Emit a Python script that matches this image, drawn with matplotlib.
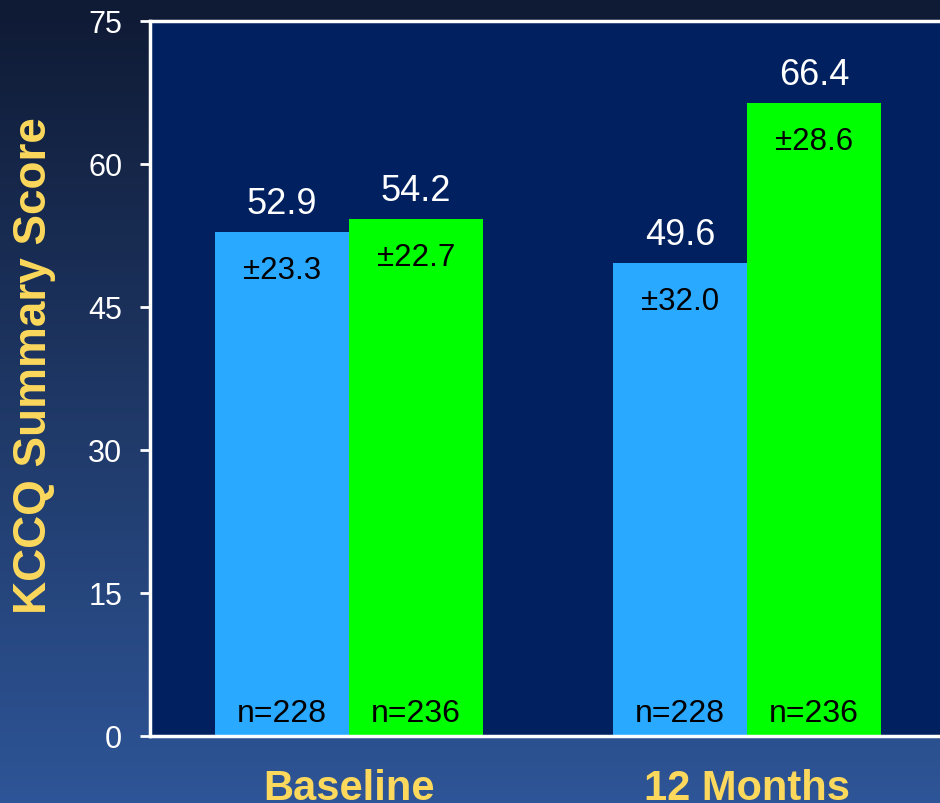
import numpy as np
import matplotlib
matplotlib.use("Agg")
import matplotlib.pyplot as plt
from matplotlib.colors import LinearSegmentedColormap

plt.rcParams['font.family'] = ['Liberation Sans', 'DejaVu Sans']

groups = ["Baseline", "12 Months"]
control_vals = [52.9, 49.6]
treat_vals = [54.2, 66.4]
control_sd = ["±23.3", "±32.0"]
treat_sd = ["±22.7", "±28.6"]
control_n = ["n=228", "n=228"]
treat_n = ["n=236", "n=236"]
yticks = [0, 15, 30, 45, 60, 75]

fig = plt.figure(figsize=(9.4, 8.04), dpi=100)

# background gradient
bg = fig.add_axes([0, 0, 1, 1], zorder=-10)
grad = np.linspace(0, 1, 256).reshape(-1, 1)
cmap = LinearSegmentedColormap.from_list("bg", ["#0f1a34", "#2e5597"])
bg.imshow(grad, aspect='auto', cmap=cmap, extent=[0, 1, 0, 1], origin='upper')
bg.axis('off')

ax = fig.add_axes([150/940, 67/804, 796/940, 715/804])
ax.set_facecolor("#002060")

x = np.arange(len(groups))
w = 134/398
b1 = ax.bar(x - w/2, control_vals, w, color="#29a9ff", zorder=2)
b2 = ax.bar(x + w/2, treat_vals, w, color="#00ff00", zorder=2)

ax.set_xlim(-0.5, 1.5)
ax.set_ylim(0, 75)
ax.set_yticks(yticks)
ax.set_yticklabels([str(t) for t in yticks], color="white", fontsize=22)
ax.tick_params(axis='y', length=7, width=2, color="white", pad=13)
ax.set_xticks([])

for s in ["left", "top", "bottom"]:
    ax.spines[s].set_color("white")
    ax.spines[s].set_linewidth(2.5)
ax.spines["right"].set_visible(False)

px = 72/100  # points per pixel
for bars, vals, sds, ns in [(b1, control_vals, control_sd, control_n),
                            (b2, treat_vals, treat_sd, treat_n)]:
    for bar, v, sd, n in zip(bars, vals, sds, ns):
        cx = bar.get_x() + bar.get_width()/2
        ax.annotate(f"{v:.1f}", (cx, v), xytext=(0, 19*px), textcoords="offset points",
                    ha="center", va="baseline", color="white", fontsize=26)
        ax.annotate(sd, (cx, v), xytext=(0, -46*px), textcoords="offset points",
                    ha="center", va="baseline", color="black", fontsize=22.5)
        ax.annotate(n, (cx, 0), xytext=(0, 15*px), textcoords="offset points",
                    ha="center", va="baseline", color="black", fontsize=23)

for xi, g in zip(x, groups):
    ax.annotate(g, (xi, 0), xycoords=("data", "axes fraction"), xytext=(0, -63*px),
                textcoords="offset points", ha="center", va="baseline",
                color="#fcd95c", fontsize=30, fontweight="bold", annotation_clip=False)

fig.text(34/940, 1 - 366/804, "KCCQ Summary Score", rotation=90, ha="center", va="center",
         color="#fcd95c", fontsize=33, fontweight="bold")

fig.savefig("out.png", dpi=100)
